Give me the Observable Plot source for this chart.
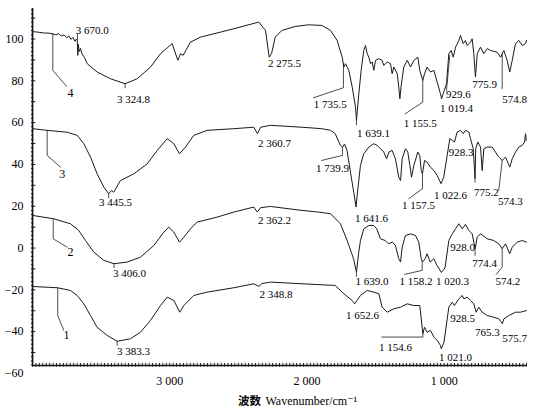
<!DOCTYPE html>
<html><head><meta charset="utf-8">
<script src="https://cdn.jsdelivr.net/npm/d3@7"></script>
<script src="https://cdn.jsdelivr.net/npm/@observablehq/plot@0.6"></script>
<style>html,body{margin:0;padding:0;background:#fff} svg{display:block}</style>
</head><body><div id="chart"></div>
<script>
// wavenumber (cm-1), transmittance (offset %)
const spectrum4 = [[4000,103.5],[3960,103.3],[3920,102.9],[3880,102.8],[3856,102.5],[3830,102.0],[3810,102.6],[3790,101.4],[3770,102.0],[3750,100.6],[3735,101.5],[3720,99.8],[3705,100.8],[3690,98.9],[3680,100.0],[3674,99.3],[3670,92.2],[3666,97.5],[3660,94.0],[3650,95.5],[3640,93.0],[3620,91.0],[3601,88.2],[3529,84.2],[3432,81.0],[3325,78.6],[3237,81.0],[3140,86.6],[3067,93.0],[2982,97.8],[2941,89.8],[2921,93.0],[2902,92.2],[2849,98.5],[2776,100.9],[2533,104.9],[2351,108.1],[2302,104.1],[2275,91.3],[2258,93.0],[2231,100.9],[2183,104.1],[2086,106.0],[1989,106.8],[1892,106.5],[1828,104.1],[1780,99.3],[1743,91.3],[1731,86.6],[1719,88.2],[1695,85.0],[1670,77.0],[1646,67.4],[1639,61.1],[1622,73.8],[1605,85.0],[1586,94.5],[1573,96.9],[1561,93.0],[1549,91.3],[1537,88.2],[1524,89.0],[1513,85.0],[1500,89.8],[1476,90.6],[1452,89.8],[1440,87.4],[1415,89.0],[1391,88.2],[1379,83.4],[1367,86.6],[1342,83.4],[1331,77.0],[1323,71.4],[1313,77.8],[1294,86.6],[1269,89.8],[1245,86.6],[1221,89.8],[1192,91.3],[1178,85.0],[1156,80.2],[1143,83.4],[1124,86.6],[1100,84.2],[1075,85.0],[1051,79.4],[1027,73.8],[1019,71.4],[1003,74.6],[983,78.6],[966,93.0],[949,94.5],[934,91.3],[917,96.1],[893,99.3],[881,101.7],[861,97.8],[845,99.3],[832,96.9],[808,98.5],[796,100.1],[784,93.0],[772,81.8],[759,93.0],[735,96.1],[711,93.0],[686,95.4],[662,94.5],[614,93.7],[589,91.3],[577,93.0],[565,94.5],[541,89.8],[522,84.2],[504,89.8],[480,97.8],[456,99.3],[431,96.9],[407,97.8],[400,99.3]];
const spectrum3 = [[4000,57.1],[3893,56.3],[3747,55.4],[3674,53.9],[3626,49.9],[3577,43.5],[3529,35.5],[3480,29.1],[3445,26.0],[3424,27.5],[3408,26.7],[3359,32.3],[3262,35.5],[3164,40.3],[3091,46.7],[3018,52.3],[2970,49.9],[2929,45.1],[2885,48.3],[2825,53.9],[2727,56.3],[2533,57.1],[2387,57.8],[2361,54.7],[2338,57.8],[2266,58.7],[2037,57.8],[1892,57.1],[1828,56.3],[1794,54.7],[1756,49.1],[1741,48.2],[1726,49.8],[1708,46.7],[1683,36.3],[1659,26.7],[1642,19.6],[1634,25.2],[1610,39.5],[1586,45.1],[1549,48.3],[1513,49.9],[1488,49.1],[1464,47.5],[1440,45.9],[1420,42.7],[1403,45.9],[1379,46.7],[1355,42.7],[1331,33.9],[1318,32.3],[1306,42.7],[1282,47.5],[1265,45.9],[1250,39.5],[1238,33.9],[1221,39.5],[1192,45.9],[1178,44.3],[1167,37.1],[1158,35.5],[1143,41.9],[1124,41.1],[1100,38.7],[1075,37.1],[1051,34.7],[1023,30.8],[1003,33.9],[978,44.3],[959,52.3],[941,51.5],[925,50.7],[905,55.5],[881,56.3],[861,54.7],[845,56.3],[820,55.5],[808,52.3],[788,47.5],[775,33.2],[770,47.5],[755,50.7],[735,48.3],[723,37.1],[711,47.5],[686,48.3],[650,48.3],[626,45.9],[602,43.5],[577,41.9],[553,43.5],[522,38.7],[504,42.7],[480,45.9],[456,48.3],[431,49.1],[414,50.7],[407,54.7],[402,51.5]];
const spectrum2 = [[4000,15.6],[3845,14.0],[3723,11.6],[3663,8.4],[3614,3.6],[3553,-2.0],[3480,-5.9],[3406,-7.5],[3310,-6.7],[3213,-4.4],[3116,1.2],[3043,7.6],[3007,10.0],[2970,7.6],[2929,2.8],[2897,5.2],[2849,9.2],[2800,12.4],[2654,14.8],[2533,17.2],[2387,19.6],[2362,17.2],[2338,19.3],[2266,19.9],[2037,18.0],[1916,17.2],[1828,16.4],[1756,11.6],[1707,3.6],[1673,-2.7],[1659,-5.5],[1639,-11.5],[1624,-2.7],[1610,3.6],[1586,9.2],[1549,10.8],[1515,10.8],[1491,9.2],[1464,4.4],[1430,3.6],[1406,2.0],[1377,2.8],[1355,1.2],[1331,-5.1],[1318,-6.7],[1306,0.4],[1282,6.0],[1245,6.8],[1209,6.0],[1185,2.8],[1167,-5.1],[1158,-6.7],[1138,-5.1],[1124,-2.7],[1102,-6.7],[1075,-5.1],[1052,-8.3],[1020,-11.7],[994,-9.5],[966,3.6],[941,6.8],[917,9.2],[893,11.6],[868,9.2],[845,11.3],[820,8.4],[796,6.8],[774,-0.3],[759,5.2],[735,6.8],[686,4.4],[638,3.6],[602,2.0],[577,-0.3],[553,2.0],[522,-2.7],[504,0.4],[468,2.8],[431,3.6],[400,2.8]];
const spectrum1 = [[4000,-18.4],[3820,-19.0],[3723,-20.3],[3674,-22.7],[3626,-26.7],[3577,-32.3],[3529,-37.9],[3456,-41.8],[3383,-44.6],[3286,-43.4],[3213,-40.3],[3140,-34.6],[3067,-27.5],[3018,-23.5],[2970,-25.1],[2927,-30.7],[2897,-27.5],[2873,-25.9],[2825,-22.7],[2727,-21.1],[2533,-19.0],[2387,-17.1],[2349,-18.4],[2330,-17.0],[2266,-16.3],[2037,-17.1],[1794,-17.9],[1731,-21.9],[1670,-25.1],[1652,-26.7],[1610,-22.7],[1561,-20.3],[1513,-21.1],[1476,-21.9],[1452,-28.3],[1415,-30.7],[1367,-29.1],[1318,-28.3],[1269,-26.7],[1221,-27.5],[1178,-27.5],[1155,-41.0],[1143,-37.9],[1124,-40.3],[1100,-39.4],[1075,-42.6],[1051,-44.2],[1027,-46.6],[1021,-48.2],[1001,-45.0],[966,-28.3],[941,-25.9],[925,-27.5],[893,-24.3],[868,-22.7],[856,-24.3],[832,-23.5],[808,-25.1],[784,-26.7],[767,-30.7],[748,-28.3],[723,-30.7],[686,-32.3],[638,-33.1],[602,-33.9],[576,-36.2],[565,-33.9],[529,-32.3],[480,-30.7],[444,-30.7],[400,-29.9]];

const xTicks = [3000, 2000, 1000];
const yTicks = [-60, -40, -20, 0, 20, 40, 60, 80, 100];

// peak annotations: [wavenumber, transmittance, label]
const peakLabels = [
  [3565,104.1,"3 670.0"],[3264,71.1,"3 324.8"],[2164,88.3,"2 275.5"],[1831,68.7,"1 735.5"],[1515,54.7,"1 639.1"],
  [1175,59.8,"1 155.5"],[896,73.5,"929.6"],[910,66.8,"1 019.4"],[706,78.3,"775.9"],[487,71.0,"574.8"],
  [3395,22.0,"3 445.5"],[2236,49.9,"2 360.7"],[1814,38.3,"1 739.9"],[1530,14.2,"1 641.6"],[1187,20.4,"1 157.5"],
  [954,25.2,"1 022.6"],[876,45.9,"928.3"],[692,26.7,"775.2"],[517,22.3,"574.3"],
  [3293,-12.3,"3 406.0"],[2236,13.2,"2 362.2"],[1526,-16.0,"1 639.0"],[1205,-16.0,"1 158.2"],[940,-16.0,"1 020.3"],
  [866,0.4,"928.0"],[706,-7.5,"774.4"],[536,-16.0,"574.2"],
  [3264,-49.5,"3 383.3"],[2226,-22.2,"2 348.8"],[1595,-32.3,"1 652.6"],[1355,-47.4,"1 154.6"],[917,-52.5,"1 021.0"],
  [866,-33.8,"928.5"],[686,-40.5,"765.3"],[487,-43.4,"575.7"]
];
const curveNumbers = [[3723,74.1,"4"],[3784,35.5,"3"],[3723,-2.0,"2"],[3752,-41.8,"1"]];

// leader lines from peaks / curves to their labels
const leaders = [
  [[3852,102.7],[3852,85.0],[3752,77.3]],
  [[3672,99.5],[3672,102.3]],
  [[3325,78.6],[3325,76.6]],
  [[1952,71.9],[1734,76.7],[1734,88.2]],
  [[1639,61.1],[1639,59.0]],
  [[1284,64.2],[1156,69.8],[1156,80.2]],
  [[959,92.2],[983,75.4]],
  [[577,93.0],[577,76.2]],
  [[3893,56.3],[3893,44.3],[3796,38.7]],
  [[3445,26.0],[3445,24.0]],
  [[1894,41.9],[1741,44.3],[1741,48.1]],
  [[1258,23.6],[1158,28.4],[1158,35.5]],
  [[775,33.2],[775,31.5]],
  [[602,27.6],[577,41.9]],
  [[3849,14.0],[3849,4.4],[3747,0.4]],
  [[3406,-7.5],[3406,-9.5]],
  [[1639,-11.5],[1639,-13.6]],
  [[1289,-12.6],[1160,-10.7],[1160,-6.7]],
  [[775,-0.3],[775,-3.5]],
  [[621,-12.6],[577,-9.1],[577,-0.3]],
  [[3816,-19.0],[3816,-32.3],[3772,-39.4]],
  [[3383,-44.6],[3383,-46.6]],
  [[1454,-42.6],[1155,-42.6],[1155,-41.0]]
];

const W_MAX = 4000, W_MIN = 400, T_MIN = -56.2, T_MAX = 114.6;

const spectra = [spectrum1, spectrum2, spectrum3, spectrum4].flatMap((s, i) =>
  s.map(([w, t]) => ({series: i + 1, w, t})));
const leaderRows = leaders.flatMap((pts, id) => pts.map(([w, t]) => ({id, w, t})));
const labelRows = peakLabels.map(([w, t, text]) => ({w, t, text}));
const numberRows = curveNumbers.map(([w, t, text]) => ({w, t, text}));

const xMinor = d3.range(W_MIN, W_MAX + 1, 25);
const yMinor = d3.range(-56, T_MAX, 2);
const yMid = d3.range(-50, T_MAX, 10);

const fmt = d => String(d).replace(/\B(?=(\d{3})+(?!\d))/g, " ");
const serif = "'Liberation Serif','DejaVu Serif',serif";

const chart = Plot.plot({
  width: 538, height: 417,
  marginLeft: 32, marginRight: 12, marginTop: 8, marginBottom: 52,
  style: {fontFamily: serif, fontSize: "12px", color: "#000", background: "#fff", overflow: "visible"},
  x: {domain: [W_MAX, W_MIN], ticks: xTicks, tickFormat: fmt, tickSize: 0, tickPadding: 11, label: null},
  y: {domain: [T_MIN, T_MAX], ticks: yTicks, tickFormat: d => d < 0 ? "\u2212" + Math.abs(d) : String(d), tickSize: 0, tickPadding: 9, label: null},
  marks: [
    Plot.ruleX(xMinor, {x: d => d, y1: T_MIN - 0.8, y2: T_MIN + 1.0, stroke: "#222", strokeWidth: 1}),
    Plot.ruleY(yMinor, {y: d => d, x1: W_MAX + 8, x2: W_MAX - 10, stroke: "#222", strokeWidth: 1}),
    Plot.ruleY(yMid, {y: d => d, x1: W_MAX, x2: W_MAX - 25, stroke: "#222", strokeWidth: 1}),
    Plot.ruleX([W_MAX], {stroke: "#111", strokeWidth: 1.6}),
    Plot.ruleY([T_MIN], {stroke: "#111", strokeWidth: 1.6}),
    Plot.line(spectra, {x: "w", y: "t", z: "series", stroke: "#1a1a1a", strokeWidth: 1}),
    Plot.line(leaderRows, {x: "w", y: "t", z: "id", stroke: "#222", strokeWidth: 0.8}),
    Plot.text(labelRows, {x: "w", y: "t", text: "text", fontSize: 11, fill: "#000", fontFamily: serif}),
    Plot.text(numberRows, {x: "w", y: "t", text: "text", fontSize: 12, fill: "#000", fontFamily: serif}),
    Plot.text([{w: 2419, text: "波数"}], {x: "w", text: "text", frameAnchor: "bottom", lineAnchor: "middle", dy: 36, fontSize: 11.5, fontWeight: "bold", fontFamily: "'Noto Sans CJK SC',sans-serif", fill: "#000"}),
    Plot.text([{w: 2302, text: "Wavenumber/cm\u207B\u00B9"}], {x: "w", text: "text", frameAnchor: "bottom", lineAnchor: "middle", textAnchor: "start", dy: 36, fontSize: 12, fontFamily: serif, fill: "#000"})
  ]
});
document.getElementById("chart").append(chart);
</script>
</body></html>
